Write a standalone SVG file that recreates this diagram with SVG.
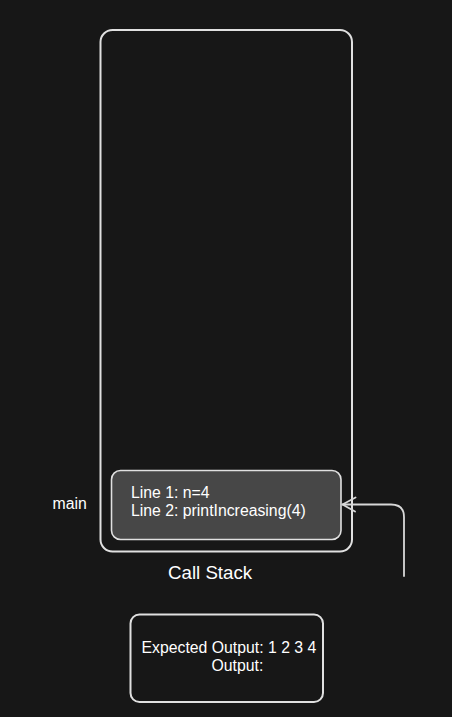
<svg xmlns="http://www.w3.org/2000/svg" width="452" height="717" viewBox="0 0 452 717">
  <style>
    .box { fill: none; stroke: #e0e0e0; stroke-width: 2; }
    .t { font-family: "Liberation Sans", Arial, sans-serif; font-size: 15.8px; fill: #ffffff; }
    .conn { fill: none; stroke: #d8d8d8; stroke-width: 1.8; stroke-linecap: round; stroke-linejoin: round; }
  </style>
  <rect x="0" y="0" width="452" height="717" fill="#171717"/>
  <g id="call-stack">
    <rect class="box" x="100.5" y="30" width="251.5" height="521.5" rx="12"/>
    <text class="t" x="168" y="579" style="font-size:18.7px">Call Stack</text>
  </g>
  <g id="main-frame">
    <rect x="111.5" y="470.5" width="229.5" height="69" rx="9" fill="#474747" stroke="#e0e0e0" stroke-width="1.6"/>
    <text class="t" x="131" y="498">Line 1: n=4</text>
    <text class="t" x="131" y="516">Line 2: printIncreasing(4)</text>
  </g>
  <g id="main-label">
    <text class="t" x="52.5" y="509">main</text>
  </g>
  <g id="output-box">
    <rect class="box" x="130.5" y="614.5" width="192.5" height="87.5" rx="9"/>
    <text class="t" x="141.5" y="653">Expected Output: 1 2 3 4</text>
    <text class="t" x="211.5" y="671">Output:</text>
  </g>
  <g id="connectors">
    <path class="conn" d="M404 576 L404 517 Q404 504.5 391 504.5 L342.5 504.5"/>
    <path class="conn" d="M355.5 497.5 L342.5 504.5 L355 511.5"/>
  </g>
</svg>
